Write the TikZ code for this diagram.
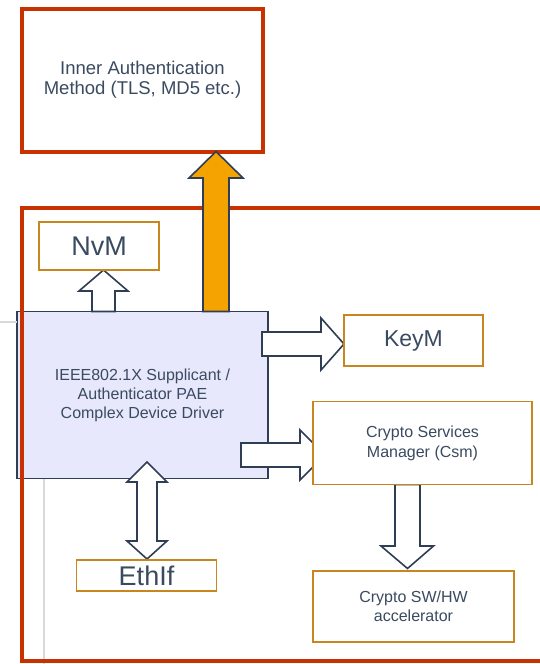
\documentclass[tikz,border=0pt]{standalone}
\usepackage{fontspec}
\setmainfont{Liberation Sans}
\definecolor{framered}{RGB}{200, 50, 0}
\definecolor{modgold}{RGB}{200, 134, 30}
\definecolor{authorange}{RGB}{245, 163, 0}
\definecolor{linenavy}{RGB}{47, 62, 85}
\definecolor{cddlav}{RGB}{232, 232, 252}
\definecolor{txtslate}{RGB}{58, 74, 96}
\usetikzlibrary{positioning, calc}
\pgfdeclarelayer{back}
\pgfdeclarelayer{mid}
\pgfsetlayers{back,mid,main}

\begin{document}
\begin{tikzpicture}[x=1pt, y=-1pt,
    modbox/.style={draw=modgold, line width=1.5pt, fill=white, text=txtslate, inner sep=0pt, outer sep=0pt, align=center},
    blockarrow/.style={draw=linenavy, line width=1.6pt, fill=white, line join=miter}]
  \useasboundingbox (0,0) rectangle (539,664);
  \clip (0,0) rectangle (539,664);

  \begin{pgfonlayer}{back}
  % ===== Inner authentication (top) =====
  \node[draw=framered, line width=4pt, minimum width=241pt, minimum height=143pt, inner sep=0pt, outer sep=0pt,
        text=txtslate, font=\fontsize{18.5}{20}\selectfont, align=center] (inner) at (142.5, 80)
        {Inner Authentication\\Method (TLS, MD5 etc.)};

  % ===== CDD =====
  \node[draw=linenavy, line width=1.5pt, fill=cddlav, minimum width=251pt, minimum height=167pt, inner sep=0pt, outer sep=0pt,
        text=txtslate, font=\fontsize{16}{19}\selectfont, align=center] (main) at (142.5, 395)
        {IEEE802.1X Supplicant /\\Authenticator PAE\\Complex Device Driver};

  % Grey shadow lines
  \draw[black!15, line width=2.5pt] (0,322) -- (main.west |- 0,322);
  \draw[black!15, line width=2.5pt] (44,0 |- main.south) -- (44,664);

  % ECU frame
  \draw[framered, line width=4pt] (560,208) -- (22,208) -- (22,661) -- (560,661);
  \end{pgfonlayer}

  % ===== Modules =====
  \node[modbox, minimum width=120pt, minimum height=48pt, font=\fontsize{27}{28}\selectfont] (nvm) at (99, 246) {NvM};
  \node[modbox, minimum width=139pt, minimum height=51pt, font=\fontsize{23}{25}\selectfont] (keym) at (413.5, 340.5) {KeyM};
  \node[modbox, minimum width=219pt, minimum height=83pt, font=\fontsize{16}{20}\selectfont] (csm) at (422.5, 443)
        {Crypto Services\\Manager (Csm)};
  \node[modbox, minimum width=201pt, minimum height=71pt, font=\fontsize{16}{19}\selectfont] (accel) at (413.5, 606.5)
        {Crypto SW/HW\\accelerator};
  \node[modbox, minimum width=140pt, minimum height=31pt, font=\fontsize{27}{29}\selectfont] (ethif) at (146.5, 575.5) {EthIf};

  % ===== Arrows =====
  \begin{pgfonlayer}{mid}
  \draw[blockarrow, fill=authorange] (216,0 |- main.north) ++(-13,0) -- ++(0,-133.5) -- ++(-14,0)
    -- (216,0 |- inner.south) -- ++(27,26.5) -- ++(-14,0) -- ++(0,133.5) -- cycle;
  \draw[blockarrow] (103.5,0 |- main.north) ++(-11.5,0) -- ++(0,-20.5) -- ++(-13,0)
    -- (103.5,0 |- nvm.south) -- ++(24.5,21) -- ++(-13,0) -- ++(0,20.5) -- cycle;
  \draw[blockarrow] (main.east |- 0,344) ++(-6,-12) -- ++(59,0) -- ++(0,-14)
    -- (keym.west |- 0,344) -- ++(-23,26) -- ++(0,-14) -- ++(-59,0) -- cycle;
  \draw[blockarrow] (main.east |- 0,455) ++(-27,-12) -- ++(59,0) -- ++(0,-13)
    -- ($(csm.west |- 0,455)+(12,0)$) -- ++(-25,25) -- ++(0,-13) -- ++(-59,0) -- cycle;
  \draw[blockarrow] (407.5,0 |- csm.south) ++(-12.5,0) -- ++(0,61.5) -- ++(-14,0)
    -- ($(407.5,0 |- accel.north)+(0,-2.5)$) -- ++(26,-22.5) -- ++(-13.5,0) -- ++(0,-61.5) -- cycle;
  \draw[blockarrow] (147,0 |- ethif.north) ++(0,-1) -- ++(-20,-18) -- ++(10,0) -- ++(0,-59) -- ++(-10,0)
    -- ++(20,-20) -- ++(20,20) -- ++(-10,0) -- ++(0,59) -- ++(10,0) -- cycle;
  \end{pgfonlayer}
\end{tikzpicture}
\end{document}
